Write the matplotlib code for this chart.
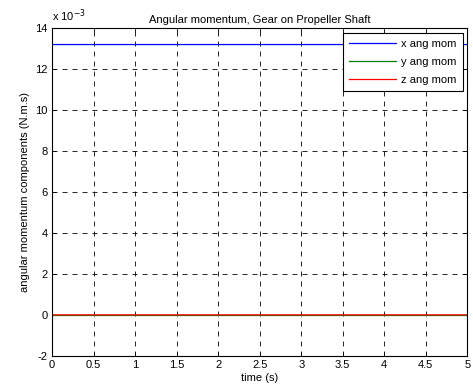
import matplotlib
matplotlib.use("Agg")
import matplotlib.pyplot as plt
from matplotlib.ticker import FuncFormatter

# time (s) and angular momentum components (N.m.s)
time = [0.0, 0.002, 5.0]
x_ang_mom = [0.0, 13.2e-3, 13.2e-3]
y_ang_mom = [0.0, 0.0, 0.0]
z_ang_mom = [0.3e-3, 0.0, 0.0]

plt.rcParams["font.family"] = ["Liberation Sans", "DejaVu Sans"]
plt.rcParams["font.size"] = 8

fig = plt.figure(figsize=(4.73, 3.91), dpi=100)
ax = fig.add_axes([0.110, 0.090, 0.878, 0.838])

ax.plot(time, x_ang_mom, color="#0000ff", lw=0.9, label="x ang mom")
ax.plot(time, y_ang_mom, color="#007f00", lw=0.9, label="y ang mom")
ax.plot(time, z_ang_mom, color="#ff0000", lw=0.9, label="z ang mom")

ax.set_xlim(0, 5)
ax.set_ylim(-2e-3, 14e-3)
ax.set_xticks([0, 0.5, 1, 1.5, 2, 2.5, 3, 3.5, 4, 4.5, 5])
ax.set_xticklabels(["0", "0.5", "1", "1.5", "2", "2.5", "3", "3.5", "4", "4.5", "5"])
ax.set_yticks([v * 1e-3 for v in range(-2, 15, 2)])
ax.yaxis.set_major_formatter(FuncFormatter(lambda v, p: "%g" % round(v * 1e3, 6)))
ax.grid(True, color="black", linestyle=(0, (6, 6)), linewidth=0.6)
ax.tick_params(direction="in", length=3, width=0.6, top=True, right=True, pad=3)
for s in ax.spines.values():
    s.set_linewidth(0.8)

# MATLAB-style exponent label above the y axis
ax.text(0.0, 1.012, r"x 10$^{-3}$", transform=ax.transAxes, fontsize=8,
        ha="left", va="bottom")
ax.set_title("Angular momentum, Gear on Propeller Shaft", fontsize=8, pad=4)
ax.set_xlabel("time (s)", labelpad=2)
ax.set_ylabel("angular momentum components (N.m.s)", labelpad=4)

leg = ax.legend(loc="upper right", fancybox=False, framealpha=1, edgecolor="black",
                borderpad=0.55, labelspacing=0.75, handlelength=4.2,
                handletextpad=0.5, borderaxespad=0.4)
leg.get_frame().set_linewidth(0.8)

fig.savefig("out.png", dpi=100)
